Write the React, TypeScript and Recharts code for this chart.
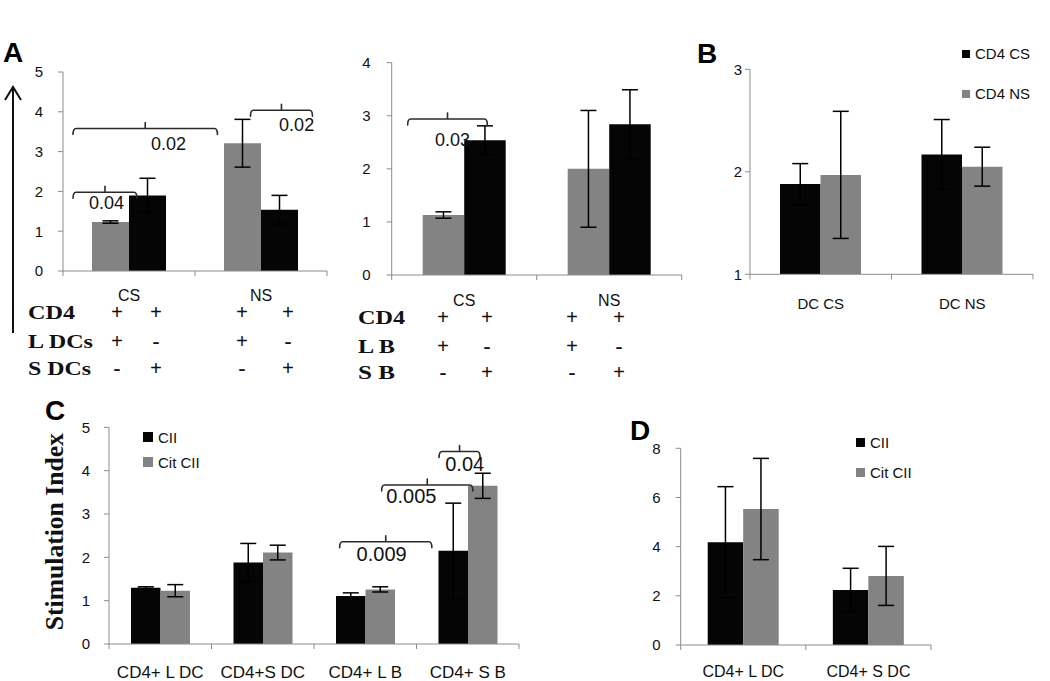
import React from 'react';
import { BarChart, Bar, XAxis, YAxis, ErrorBar, ReferenceLine, ReferenceDot, Legend, Label } from 'recharts';

// ---------- data ----------
// Panel A (left): CD4 + spleen DCs
const aDcCategories = ['CS', 'NS'];
const aDcLargeValues = [1.23, 3.21];
const aDcLargeErr = [0.03, 0.6];
const aDcSmallValues = [1.9, 1.54];
const aDcSmallErr = [0.43, 0.36];
const aDcTicks = [0, 1, 2, 3, 4, 5];

// Panel A (right): CD4 + B cells
const aBCategories = ['CS', 'NS'];
const aBLargeValues = [1.13, 2.0];
const aBLargeErr = [0.06, 1.1];
const aBSmallValues = [2.54, 2.84];
const aBSmallErr = [0.27, 0.65];
const aBTicks = [0, 1, 2, 3, 4];

// Panel B
const bCategories = ['DC CS', 'DC NS'];
const bCsValues = [1.88, 2.17];
const bCsErr = [0.2, 0.34];
const bNsValues = [1.97, 2.05];
const bNsErr = [0.62, 0.19];
const bTicks = [1, 2, 3];

// Panel C
const cCategories = ['CD4+ L DC', 'CD4+S DC', 'CD4+ L B', 'CD4+ S B'];
const cCiiValues = [1.3, 1.88, 1.11, 2.15];
const cCiiErr = [0.02, 0.44, 0.07, 1.1];
const cCitValues = [1.23, 2.11, 1.26, 3.65];
const cCitErr = [0.14, 0.17, 0.06, 0.29];
const cTicks = [0, 1, 2, 3, 4, 5];

// Panel D
const dCategories = ['CD4+ L DC', 'CD4+ S DC'];
const dCiiValues = [4.18, 2.24];
const dCiiErr = [2.26, 0.88];
const dCitValues = [5.53, 2.81];
const dCitErr = [2.06, 1.2];
const dTicks = [0, 2, 4, 6, 8];

// p-value brackets (x in category units, y in data units)
const aDcBrackets = [
  { from: 0.076, to: 0.56, y: 1.98, p: '0.04', px: 0.33, py: 1.71 },
  { from: 0.076, to: 1.17, y: 3.58, p: '0.02', px: 0.8, py: 3.2 },
  { from: 1.42, to: 1.89, y: 4.04, p: '0.02', px: 1.77, py: 3.67 },
];
const aBBrackets = [{ from: 0.11, to: 0.66, y: 2.94, p: '0.03', px: 0.42, py: 2.56 }];
const cBrackets = [
  { from: 2.25, to: 3.15, y: 2.36, p: '0.009', px: 2.66, py: 2.07 },
  { from: 2.66, to: 3.55, y: 3.67, p: '0.005', px: 2.95, py: 3.42 },
  { from: 3.22, to: 3.62, y: 4.44, p: '0.04', px: 3.47, py: 4.15 },
];

// condition tables under panel A
const tableARowLabels = ['CD4', 'L DCs', 'S DCs'];
const tableBRowLabels = ['CD4', 'L B', 'S B'];
const tableSigns = [
  ['+', '+', '+', '+'],
  ['+', '-', '+', '-'],
  ['-', '+', '-', '+'],
];
const panelLetters = ['A', 'B', 'C', 'D'];

// ---------- styles / layout ----------
const GREY = '#838383';
const BLACK = '#050505';
const AXIS = '#8c8c8c';
const TEXT = '#111';
const SANS = '"Liberation Sans", Arial, sans-serif';
const SERIF = '"Liberation Serif", "Times New Roman", serif';

type Series = { key: string; name: string; values: number[]; err: number[]; fill: string };
type Bracket = { from: number; to: number; y: number; p: string; px: number; py: number };
type PanelProps = {
  left: number; top: number; width: number; height: number;
  plot: { l: number; r: number; t: number; b: number };
  categories: string[]; series: Series[]; domain: [number, number]; ticks: number[];
  barSize: number; brackets?: Bracket[]; pFont?: number;
  tickOff: number; tickFont: number; yTickMargin: number;
  legend?: { x: number; y: number; rowH: number; sq: number; fs: number };
  yLabel?: { text: string; dx: number; dy: number; len: number; fs: number };
};

const BracketShape = (props: any) => {
  const { x1, y1, x2 } = props;
  const h = 6;
  const r = 3;
  const mid = (x1 + x2) / 2;
  const d = `M${x1},${y1 + h} Q${x1},${y1} ${x1 + r},${y1} L${x2 - r},${y1} Q${x2},${y1} ${x2},${y1 + h} M${mid},${y1} L${mid},${y1 - 6}`;
  return <path d={d} fill="none" stroke="#2a2a2a" strokeWidth={1.6} strokeLinecap="round" />;
};

const makeCatTick = (bw: number, off: number, fs: number) => (props: any) => {
  const { x, y, payload, index } = props;
  return (
    <g>
      <line x1={x + bw / 2} x2={x + bw / 2} y1={y} y2={y + 5} stroke={AXIS} />
      {index === 0 && <line x1={x - bw / 2} x2={x - bw / 2} y1={y} y2={y + 5} stroke={AXIS} />}
      <text x={x} y={y + off} textAnchor="middle" dominantBaseline="central" fontSize={fs} fill={TEXT} fontFamily={SANS}>
        {payload.value}
      </text>
    </g>
  );
};

const makeLegend = (rowH: number, sq: number, fs: number) => (props: any) => (
  <div style={{ fontFamily: SANS }}>
    {(props.payload || []).map((p: any) => (
      <div key={p.value} style={{ display: 'flex', alignItems: 'center', height: rowH, whiteSpace: 'nowrap' }}>
        <span style={{ display: 'inline-block', width: sq, height: sq, background: p.color }} />
        <span style={{ marginLeft: 5, fontSize: fs, color: TEXT }}>{p.value}</span>
      </div>
    ))}
  </div>
);

function Panel(p: PanelProps) {
  const data = p.categories.map((c, i) => {
    const row: any = { name: c, slot: i + 0.5 };
    p.series.forEach((s) => {
      row[s.key] = s.values[i];
      row[s.key + 'Err'] = s.err[i];
    });
    return row;
  });
  const yAxisWidth = p.plot.l - p.left;
  const marginTop = p.plot.t - p.top;
  const marginRight = p.left + p.width - p.plot.r;
  const xAxisHeight = p.top + p.height - p.plot.b;
  const n = p.categories.length;
  const bw = (p.plot.r - p.plot.l) / n;
  return (
    <div style={{ position: 'absolute', left: p.left, top: p.top }}>
      <BarChart
        width={p.width}
        height={p.height}
        data={data}
        margin={{ top: marginTop, right: marginRight, bottom: 0, left: 0 }}
        barGap={0}
      >
        <XAxis
          dataKey="name"
          interval={0}
          height={xAxisHeight}
          axisLine={{ stroke: AXIS }}
          tickLine={false}
          tickSize={0}
          tickMargin={0}
          tick={makeCatTick(bw, p.tickOff, p.tickFont)}
        />
        <XAxis xAxisId="n" dataKey="slot" type="number" domain={[0, n]} hide allowDataOverflow />
        <YAxis
          width={yAxisWidth}
          domain={p.domain}
          ticks={p.ticks}
          interval={0}
          allowDataOverflow
          axisLine={{ stroke: AXIS }}
          tickLine={{ stroke: AXIS }}
          tickSize={5}
          tickMargin={p.yTickMargin}
          tick={{ fontSize: 15, fill: TEXT, fontFamily: SANS }}
        >
          {p.yLabel && (
            <Label
              content={(lp: any) => {
                const vb = lp.viewBox || { x: 0, y: 0, width: 0, height: 0 };
                const cx = vb.x + p.yLabel!.dx;
                const cy = vb.y + vb.height / 2 + p.yLabel!.dy;
                return (
                  <text
                    x={cx}
                    y={cy}
                    transform={`rotate(-90 ${cx} ${cy})`}
                    textAnchor="middle"
                    dominantBaseline="central"
                    fontFamily={SERIF}
                    fontWeight="bold"
                    fontSize={p.yLabel!.fs}
                    textLength={p.yLabel!.len}
                    lengthAdjust="spacingAndGlyphs"
                    fill={TEXT}
                  >
                    {p.yLabel!.text}
                  </text>
                );
              }}
            />
          )}
        </YAxis>
        {p.series.map((s) => (
          <Bar key={s.key} dataKey={s.key} name={s.name} fill={s.fill} barSize={p.barSize} isAnimationActive={false}>
            <ErrorBar dataKey={s.key + 'Err'} width={8} stroke="#000" strokeWidth={1.5} direction="y" />
          </Bar>
        ))}
        {(p.brackets || []).map((b, i) => (
          <ReferenceLine
            key={'br' + i}
            xAxisId="n"
            segment={[{ x: b.from, y: b.y }, { x: b.to, y: b.y }]}
            shape={BracketShape}
            ifOverflow="visible"
          />
        ))}
        {(p.brackets || []).map((b, i) => (
          <ReferenceDot
            key={'pl' + i}
            xAxisId="n"
            x={b.px}
            y={b.py}
            r={0.5}
            fill="none"
            stroke="none"
            ifOverflow="visible"
            label={{ value: b.p, position: 'center', fontSize: p.pFont, fill: '#111', fontFamily: SANS }}
          />
        ))}
        {p.legend && (
          <Legend
            layout="vertical"
            align="center"
            verticalAlign="middle"
            wrapperStyle={{ left: p.legend.x, top: p.legend.y, width: 'auto' }}
            content={makeLegend(p.legend.rowH, p.legend.sq, p.legend.fs)}
          />
        )}
      </BarChart>
    </div>
  );
}

const tableLayouts = [
  { labels: tableARowLabels, labelX: 28, rowsY: [313, 342, 369], colsX: [117, 156, 242, 288], widths: [47, 65, 63] },
  { labels: tableBRowLabels, labelX: 358, rowsY: [318, 347, 373], colsX: [443, 487, 572, 619], widths: [47, 37, 37] },
];
const letterPos = [
  { x: 3, y: 62 },
  { x: 697, y: 63 },
  { x: 45, y: 420 },
  { x: 630, y: 440 },
];

export default function App() {
  return (
    <div
      style={{
        position: 'absolute',
        left: 0,
        top: 0,
        width: 1050,
        height: 681,
        background: '#fff',
        overflow: 'hidden',
        fontFamily: SANS,
      }}
    >
      <Panel
        left={0} top={40} width={340} height={280}
        plot={{ l: 63, r: 327, t: 72, b: 271 }}
        categories={aDcCategories}
        series={[
          { key: 'large', name: 'CD4 + L DCs', values: aDcLargeValues, err: aDcLargeErr, fill: GREY },
          { key: 'small', name: 'CD4 + S DCs', values: aDcSmallValues, err: aDcSmallErr, fill: BLACK },
        ]}
        domain={[0, 5]} ticks={aDcTicks} barSize={37}
        brackets={aDcBrackets} pFont={18}
        tickOff={24} tickFont={16} yTickMargin={15}
      />
      <Panel
        left={340} top={40} width={350} height={280}
        plot={{ l: 391.7, r: 681.7, t: 62.7, b: 275 }}
        categories={aBCategories}
        series={[
          { key: 'large', name: 'CD4 + L B', values: aBLargeValues, err: aBLargeErr, fill: GREY },
          { key: 'small', name: 'CD4 + S B', values: aBSmallValues, err: aBSmallErr, fill: BLACK },
        ]}
        domain={[0, 4]} ticks={aBTicks} barSize={41.5}
        brackets={aBBrackets} pFont={18}
        tickOff={25} tickFont={16} yTickMargin={16}
      />
      <Panel
        left={700} top={40} width={350} height={280}
        plot={{ l: 750, r: 1033, t: 69.3, b: 274.3 }}
        categories={bCategories}
        series={[
          { key: 'cs', name: 'CD4 CS', values: bCsValues, err: bCsErr, fill: BLACK },
          { key: 'ns', name: 'CD4 NS', values: bNsValues, err: bNsErr, fill: GREY },
        ]}
        domain={[1, 3]} ticks={bTicks} barSize={40.5}
        tickOff={29} tickFont={15} yTickMargin={3}
        legend={{ x: 262, y: -6.5, rowH: 40, sq: 8, fs: 15 }}
      />
      <Panel
        left={0} top={390} width={540} height={291}
        plot={{ l: 109, r: 519, t: 427.3, b: 644 }}
        categories={cCategories}
        series={[
          { key: 'cii', name: 'CII', values: cCiiValues, err: cCiiErr, fill: BLACK },
          { key: 'cit', name: 'Cit CII', values: cCitValues, err: cCitErr, fill: GREY },
        ]}
        domain={[0, 5]} ticks={cTicks} barSize={29.5}
        brackets={cBrackets} pFont={20}
        tickOff={28} tickFont={17} yTickMargin={14}
        legend={{ x: 143, y: 34.5, rowH: 25, sq: 10, fs: 15 }}
        yLabel={{ text: 'Stimulation  Index', dx: 55, dy: -4, len: 197, fs: 25 }}
      />
      <Panel
        left={560} top={390} width={490} height={291}
        plot={{ l: 680.7, r: 931, t: 448.3, b: 645 }}
        categories={dCategories}
        series={[
          { key: 'cii', name: 'CII', values: dCiiValues, err: dCiiErr, fill: BLACK },
          { key: 'cit', name: 'Cit CII', values: dCitValues, err: dCitErr, fill: GREY },
        ]}
        domain={[0, 8]} ticks={dTicks} barSize={35.5}
        tickOff={26} tickFont={16} yTickMargin={15}
        legend={{ x: 296, y: 37, rowH: 30, sq: 9, fs: 15 }}
      />
      <svg
        width={1050}
        height={681}
        style={{ position: 'absolute', left: 0, top: 0, pointerEvents: 'none' }}
      >
        {panelLetters.map((l, i) => (
          <text key={l} x={letterPos[i].x} y={letterPos[i].y} fontFamily={SANS} fontWeight="bold" fontSize={28} fill="#000">
            {l}
          </text>
        ))}
        <path d="M13,88 L13,333 M5,100 L13,87 L21,100" fill="none" stroke="#111" strokeWidth={2} />
        {tableLayouts.map((t, ti) => (
          <g key={ti}>
            {t.labels.map((lab, ri) => (
              <text
                key={'l' + ri}
                x={t.labelX}
                y={t.rowsY[ri] + 6}
                fontFamily={SERIF}
                fontWeight="bold"
                fontSize={19}
                textLength={t.widths[ri]}
                lengthAdjust="spacingAndGlyphs"
                fill="#111"
              >
                {lab}
              </text>
            ))}
            {tableSigns.map((row, ri) =>
              row.map((s, ci) => (
                <text
                  key={'s' + ri + '-' + ci}
                  x={t.colsX[ci]}
                  y={t.rowsY[ri] + 6}
                  textAnchor="middle"
                  fontFamily={SERIF}
                  fontWeight="bold"
                  fontSize={21}
                  fill="#111"
                >
                  {s}
                </text>
              ))
            )}
          </g>
        ))}
      </svg>
    </div>
  );
}
